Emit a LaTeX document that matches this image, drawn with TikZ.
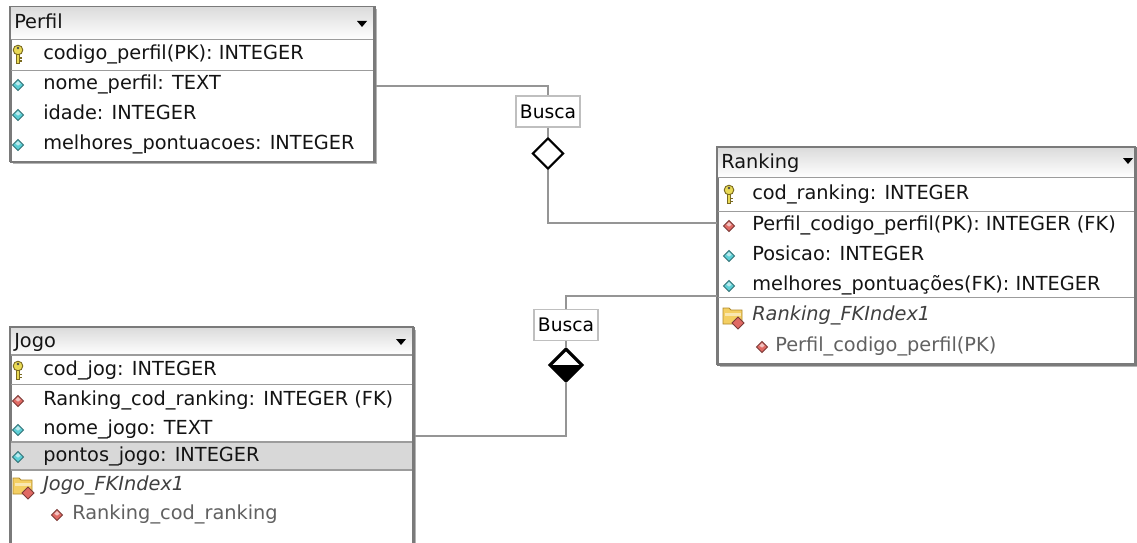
\documentclass[tikz,border=0pt]{standalone}
\usepackage{fontspec}
\setmainfont{DejaVu Sans}
\usetikzlibrary{shapes.geometric}
\definecolor{boxline}{HTML}{7A7A7A}
\definecolor{shadowc}{HTML}{B4B4B4}
\definecolor{sepc}{HTML}{9C9C9C}
\definecolor{connc}{HTML}{959595}
\definecolor{attrc}{HTML}{5CCFD6}
\definecolor{fkc}{HTML}{E06A64}
\definecolor{keyc}{HTML}{E9DA55}
\definecolor{keyd}{HTML}{7A6A20}
\definecolor{folderc}{HTML}{F4CF62}
\definecolor{folderd}{HTML}{B08A2A}
\definecolor{hlc}{HTML}{D8D8D8}
\tikzset{
  tablebox/.style={draw=boxline, line width=1.2pt, inner sep=0pt, anchor=north west},
  tshadow/.style={fill=shadowc},
  sepline/.style={draw=sepc, line width=0.9pt},
  rowtext/.style={anchor=west, inner sep=0pt, text height=0.73em, text depth=0pt, font=\fontsize{14.5}{17}\selectfont, text=black!92},
  idxtext/.style={rowtext, font=\fontsize{14.5}{17}\selectfont\itshape, text=black!75},
  subtext/.style={rowtext, text=black!62},
  conn/.style={draw=connc, line width=1.3pt},
  relname/.style={draw=gray!50, fill=white, line width=1pt, inner sep=0pt, minimum width={64*0.75pt}, minimum height={31*0.75pt}, font=\fontsize{14}{16}\selectfont},
  reldiamond/.style={diamond, draw=black, line width=1.6pt, fill=white, inner sep=0pt, minimum width={31*0.75pt}, minimum height={31*0.75pt}, aspect=1},
  pics/icondia/.style={code={
    \filldraw[fill=#1, draw=#1!55!black, line width=0.7pt] (0,-5.5) -- (5.5,0) -- (0,5.5) -- (-5.5,0) -- cycle;
    \fill[white, opacity=0.6] (0,-3.8) -- (2.6,-1.2) -- (0,0.6) -- (-2.6,-1.2) -- cycle;
  }},
  pics/iconkey/.style={code={
    \filldraw[fill=keyc, draw=keyd, line width=0.7pt] (0,-4) circle [radius=3.6pt];
    \fill[black!70] (0,-6) circle [radius=1pt];
    \filldraw[fill=keyc, draw=keyd, line width=0.7pt] (-1.8,0.5) rectangle (1.8,9);
    \fill[keyd] (1.8,3.5) rectangle (4,5);
    \fill[keyd] (1.8,6.5) rectangle (4,8);
  }},
  pics/iconfolder/.style={code={
    \filldraw[fill=folderc, draw=folderd, line width=0.7pt] (-10,-8) -- (-4,-8) -- (-2,-6) -- (9,-6) -- (9,8) -- (-10,8) -- cycle;
    \fill[white, opacity=0.5] (-8.5,-3) rectangle (7.5,-0.5);
    \filldraw[fill=fkc, draw=fkc!55!black, line width=0.7pt] (5,1) -- (11,7) -- (5,13) -- (-1,7) -- cycle;
  }},
}
\begin{document}
\begin{tikzpicture}[x=0.75pt, y=-0.75pt]
\useasboundingbox (0,0) rectangle (1137,542);
\clip (0,0) rectangle (1137,542);
\fill[white] (0,0) rectangle (1137,542);

% ---------- Perfil ----------
\fill[tshadow] (13,9.5) rectangle (377,164);
\node[tablebox, fill=white, minimum width={364*0.75pt}, minimum height={155*0.75pt}] (perfil) at (10,6.5) {};
\shade[top color=gray!28, bottom color=white] (10.6,7.1) rectangle (373.4,39.5);
\draw[sepline] (10,39.5) -- (374,39.5);
\draw[sepline] (10,70.5) -- (374,70.5);
\draw[boxline, line width=1.2pt] (10,6.5) rectangle (374,161.5);
\node[rowtext] (perfilT) at (14,24) {Perfil};
\fill[black] (357,21) -- (367,21) -- (362,27) -- cycle;
\pic at (18,54) {iconkey};
\node[rowtext] (p1) at (43,55) {codigo\_perfil(PK): INTEGER};
\pic at (18,85) {icondia=attrc};
\node[rowtext] (p2) at (43,85) {nome\_perfil: TEXT};
\pic at (18,115) {icondia=attrc};
\node[rowtext] (p3) at (43,115) {idade: INTEGER};
\pic at (18,145) {icondia=attrc};
\node[rowtext] (p4) at (43,145) {melhores\_pontuacoes: INTEGER};

% ---------- Ranking ----------
\fill[tshadow] (720,150) rectangle (1138,367);
\node[tablebox, fill=white, minimum width={418*0.75pt}, minimum height={217*0.75pt}] (ranking) at (717,147) {};
\shade[top color=gray!28, bottom color=white] (717.6,147.6) rectangle (1134.4,177.5);
\draw[sepline] (717,177.5) -- (1135,177.5);
\draw[sepline] (717,211.5) -- (1135,211.5);
\draw[sepline] (717,297.5) -- (1135,297.5);
\draw[boxline, line width=1.2pt] (717,147) rectangle (1135,364);
\node[rowtext] (rankingT) at (721,164) {Ranking};
\fill[black] (1123,158) -- (1133,158) -- (1128,164) -- cycle;
\pic at (729,194) {iconkey};
\node[rowtext] (r1) at (752,195) {cod\_ranking: INTEGER};
\pic at (729,226) {icondia=fkc};
\node[rowtext] (r2) at (752,226) {Perfil\_codigo\_perfil(PK): INTEGER (FK)};
\pic at (729,256) {icondia=attrc};
\node[rowtext] (r3) at (752,256) {Posicao: INTEGER};
\pic at (729,286) {icondia=attrc};
\node[rowtext] (r4) at (752,286) {melhores\_pontuações(FK): INTEGER};
\pic at (733,316) {iconfolder};
\node[idxtext] (r5) at (752,316) {Ranking\_FKIndex1};
\pic at (762,347) {icondia=fkc};
\node[subtext] (r6) at (775,347) {Perfil\_codigo\_perfil(PK)};

% ---------- Jogo ----------
\fill[tshadow] (13,330) rectangle (416,560);
\node[tablebox, fill=white, minimum width={403*0.75pt}, minimum height={223*0.75pt}] (jogo) at (10,327) {};
\shade[top color=gray!28, bottom color=white] (10.6,327.6) rectangle (412.4,355);
\fill[hlc] (10,442) rectangle (413,470);
\draw[sepline] (10,355) -- (413,355);
\draw[sepline] (10,384.5) -- (413,384.5);
\draw[sepline] (10,442) -- (413,442);
\draw[sepline] (10,470) -- (413,470);
\draw[boxline, line width=1.2pt] (10,327) rectangle (413,550);
\node[rowtext] (jogoT) at (14,343) {Jogo};
\fill[black] (396,339) -- (406,339) -- (401,345) -- cycle;
\pic at (18,370) {iconkey};
\node[rowtext] (j1) at (43,371) {cod\_jog: INTEGER};
\pic at (18,401) {icondia=fkc};
\node[rowtext] (j2) at (43,401) {Ranking\_cod\_ranking: INTEGER (FK)};
\pic at (18,430) {icondia=attrc};
\node[rowtext] (j3) at (43,430) {nome\_jogo: TEXT};
\pic at (18,457) {icondia=attrc};
\node[rowtext] (j4) at (43,457) {pontos\_jogo: INTEGER};
\pic at (23,486) {iconfolder};
\node[idxtext] (j5) at (43,486) {Jogo\_FKIndex1};
\pic at (57,515) {icondia=fkc};
\node[subtext] (j6) at (72,515) {Ranking\_cod\_ranking};

% ---------- Relationship 1 ----------
\node[relname] (busca1) at (548,111.5) {Busca};
\node[reldiamond] (d1) at (548,153.5) {};
\coordinate (c1a) at (548,86);
\coordinate (c1b) at (548,223);
\draw[conn] (perfil.east |- c1a) -- (c1a) -- (busca1.north);
\draw[conn] (busca1.south) -- (d1.north);
\draw[conn] (d1.south) -- (c1b) -- (ranking.west |- c1b);

% ---------- Relationship 2 ----------
\node[relname] (busca2) at (566,325) {Busca};
\node[reldiamond] (d2) at (566,365) {};
\fill[black] (d2.west) -- (d2.east) -- (d2.south) -- cycle;
\draw[black, line width=1.6pt, line join=miter] (d2.north) -- (d2.east) -- (d2.south) -- (d2.west) -- cycle;
\coordinate (c2a) at (566,296);
\coordinate (c2b) at (566,436);
\draw[conn] (ranking.west |- c2a) -- (c2a) -- (busca2.north);
\draw[conn] (busca2.south) -- (d2.north);
\draw[conn] (d2.south) -- (c2b) -- (jogo.east |- c2b);
\end{tikzpicture}
\end{document}
